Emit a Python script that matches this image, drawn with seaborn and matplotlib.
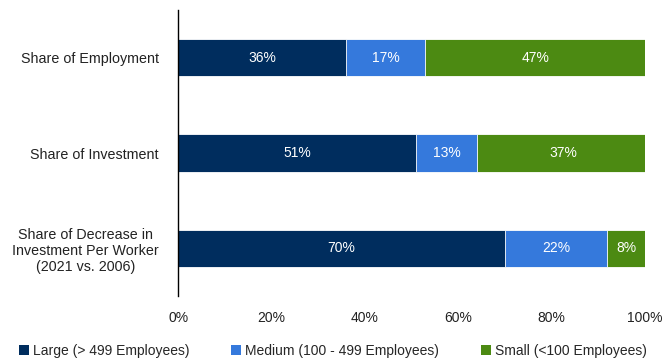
import numpy as np
import pandas as pd
import matplotlib
matplotlib.use("Agg")
import matplotlib.pyplot as plt
import seaborn as sns
from matplotlib.patches import Patch

categories = ["Share of Employment", "Share of Investment",
              "Share of Decrease in\nInvestment Per Worker\n(2021 vs. 2006)"]
series_names = ["Large (> 499 Employees)", "Medium (100 - 499 Employees)", "Small (<100 Employees)"]
large = [36, 51, 70]
medium = [17, 13, 22]
small = [47, 37, 8]
x_ticks = [0, 20, 40, 60, 80, 100]
x_tick_labels = ["0%", "20%", "40%", "60%", "80%", "100%"]

colors = ["#002D5E", "#3579DC", "#4C8A12"]

sns.set_theme(style="white")
plt.rcParams['font.family'] = ['Liberation Sans', 'DejaVu Sans']

fig = plt.figure(figsize=(6.62, 3.58), dpi=100)
ax = fig.add_axes([0.269, 0.173, 0.705, 0.799])

vals = np.array([large, medium, small], dtype=float)
cum = np.cumsum(vals, axis=0)

# draw from the rightmost cumulative down so each segment shows
for i in [2, 1, 0]:
    df = pd.DataFrame({"cat": categories, "val": cum[i]})
    sns.barplot(data=df, y="cat", x="val", orient="h", color=colors[i],
                saturation=1, width=0.39, edgecolor="white", linewidth=0.6, ax=ax)

for j in range(len(categories)):
    for i in range(3):
        start = cum[i][j] - vals[i][j]
        ax.text(start + vals[i][j] / 2, j, f"{int(vals[i][j])}%", ha="center", va="center",
                color="white", fontsize=10)

ax.set_xlim(0, 100)
ax.set_ylim(2.5, -0.5)
ax.set_xticks(x_ticks)
ax.set_xticklabels(x_tick_labels, fontsize=10, color="#222222")
ax.tick_params(axis="y", labelsize=10.3, colors="#222222", length=0, pad=14)
ax.tick_params(axis="x", length=0, pad=11)
for lbl in ax.get_yticklabels():
    lbl.set_multialignment("center")
ax.set_xlabel("")
ax.set_ylabel("")
for s in ["top", "right", "bottom"]:
    ax.spines[s].set_visible(False)
ax.spines["left"].set_color("#000000")
ax.spines["left"].set_linewidth(1.0)

handles = [Patch(facecolor=c, edgecolor="none") for c in colors]
fig.legend(handles, series_names, loc="lower center", bbox_to_anchor=(0.503, -0.035), ncol=3,
           frameon=False, fontsize=10, handlelength=0.7, handleheight=0.7,
           handletextpad=0.3, columnspacing=3.0)

fig.savefig("out.png", dpi=100)
